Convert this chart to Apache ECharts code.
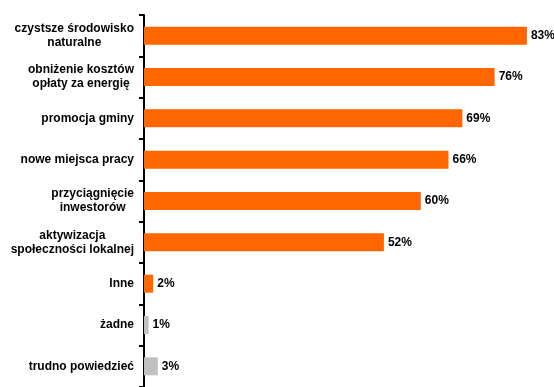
<!DOCTYPE html>
<html>
<head>
<meta charset="utf-8">
<script src="https://cdn.jsdelivr.net/npm/echarts@6/dist/echarts.min.js"></script>
<style>
html, body { margin: 0; padding: 0; background: #ffffff; }
#chart { width: 554px; height: 387px; }
</style>
</head>
<body>
<div id="chart"></div>
<script>
// Answer categories (multi-line labels use '\n')
const categories = [
  'czystsze środowisko\nnaturalne',
  'obniżenie kosztów\nopłaty za energię',
  'promocja gminy',
  'nowe miejsca pracy',
  'przyciągnięcie\ninwestorów',
  'aktywizacja\nspołeczności lokalnej',
  'Inne',
  'żadne',
  'trudno powiedzieć'
];
// Share of responses, %
const values = [83, 76, 69, 66, 60, 52, 2, 1, 3];
// Orange for substantive answers, grey for "none" / "hard to say"
const barColors = ['#FF6600', '#FF6600', '#FF6600', '#FF6600', '#FF6600', '#FF6600', '#FF6600', '#C0C0C0', '#C0C0C0'];

const FONT = 'Liberation Sans, Arial, sans-serif';

const chart = echarts.init(document.getElementById('chart'));

chart.setOption({
  animation: false,
  backgroundColor: '#ffffff',
  grid: { left: 144, top: 15, width: 406, height: 378, containLabel: false },
  xAxis: {
    type: 'value',
    min: 0,
    max: 88,
    show: false
  },
  yAxis: {
    type: 'category',
    inverse: true,
    data: categories,
    axisLine: { show: true, lineStyle: { color: '#000000', width: 2 } },
    axisTick: { show: true, length: 5, inside: false, lineStyle: { color: '#000000', width: 2 } },
    axisLabel: {
      margin: 10,
      color: '#000000',
      fontFamily: FONT,
      fontSize: 12,
      fontWeight: 'bold',
      lineHeight: 14,
      align: 'right',
      formatter: function (v) {
        return v.split('\n').map(function (s) { return '{c|' + s + '}'; }).join('\n');
      },
      rich: {
        c: { align: 'center', fontSize: 12, fontWeight: 'bold', lineHeight: 14, color: '#000000', fontFamily: FONT }
      }
    }
  },
  series: [{
    type: 'bar',
    barWidth: 18,
    data: values.map(function (v, i) {
      return { value: v, itemStyle: { color: barColors[i] } };
    }),
    label: {
      show: true,
      position: 'right',
      distance: 4,
      formatter: '{c}%',
      color: '#000000',
      fontFamily: FONT,
      fontSize: 12,
      fontWeight: 'bold'
    }
  }]
});
</script>
</body>
</html>
